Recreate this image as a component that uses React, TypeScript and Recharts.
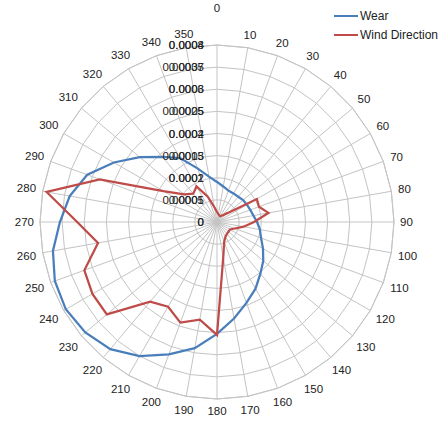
import React from 'react';
import {
  RadarChart,
  Radar,
  PolarGrid,
  PolarAngleAxis,
  PolarRadiusAxis,
  Legend,
} from 'recharts';

const angleLabels = [
  '0', '10', '20', '30', '40', '50', '60', '70', '80', '90', '100', '110',
  '120', '130', '140', '150', '160', '170', '180', '190', '200', '210', '220', '230',
  '240', '250', '260', '270', '280', '290', '300', '310', '320', '330', '340', '350',
];

const wearValues = [
  0.000181, 0.000163, 0.000151, 0.000149, 0.000149, 0.000154, 0.000156, 0.00016, 0.000167,
  0.000181, 0.000197, 0.000212, 0.00024, 0.000273, 0.000305, 0.000348, 0.000389, 0.000443,
  0.000506, 0.000579, 0.000637, 0.0007, 0.00075, 0.000777, 0.000789, 0.00078, 0.000753,
  0.00071, 0.000676, 0.000624, 0.000538, 0.000456, 0.000384, 0.000334, 0.000258, 0.000208,
];

const windValues = [
  0.0000226, 0.0000181, 0.0000158, 0.0000149, 0.00002, 0.000032, 0.000104, 0.000101, 0.000118,
  0.0000837, 0.000061, 0.000043, 0.000034, 0.000034, 0.000035, 0.0000384, 0.0000475, 0.0000814,
  0.000255, 0.000224, 0.000242, 0.000221, 0.000235, 0.000325, 0.000325, 0.000319, 0.000273,
  0.000316, 0.000391, 0.000282, 0.00014, 0.0000972, 0.0000836, 0.0000927, 0.000061, 0.0000339,
];

const wearTicks = [0, 0.0001, 0.0002, 0.0003, 0.0004, 0.0005, 0.0006, 0.0007, 0.0008];
const windTicks = [0, 0.00005, 0.0001, 0.00015, 0.0002, 0.00025, 0.0003, 0.00035, 0.0004];

const data = angleLabels.map((angle, i) => ({
  angle,
  wear: wearValues[i],
  wind: windValues[i],
}));

const CX = 217;
const CY = 222;
const R = 177;
const FONT = '"Liberation Sans", Arial, sans-serif';
const BLUE = '#4A7EBB';
const RED = '#BE4B48';

function AngleTick(props: any) {
  const { payload } = props;
  const label = String(payload.value);
  const a = (payload.coordinate * Math.PI) / 180;
  const w = label.length * 6.4;
  // excel pushes the "0" label up above the overlapping axis labels
  const d = label === '0' ? 214 : 183 + Math.abs(Math.cos(a)) * (w / 2) + Math.abs(Math.sin(a)) * 6;
  return (
    <text
      x={CX + d * Math.cos(a)}
      y={CY - d * Math.sin(a)}
      textAnchor="middle"
      dominantBaseline="central"
      fontSize={11.5}
      fontFamily={FONT}
      fill="#222"
    >
      {label}
    </text>
  );
}

function RadiusTick(props: any) {
  const { x, y, payload } = props;
  const v = parseFloat(Number(payload.value).toPrecision(6));
  return (
    <text
      x={x - 13}
      y={y}
      textAnchor="end"
      dominantBaseline="central"
      fontSize={11.5}
      fontFamily={FONT}
      fill="#222"
    >
      {String(v)}
    </text>
  );
}

function LegendBox() {
  const items = [
    { name: 'Wear', color: BLUE },
    { name: 'Wind Direction', color: RED },
  ];
  return (
    <div style={{ fontFamily: FONT, fontSize: 12, color: '#222' }}>
      {items.map((it) => (
        <div key={it.name} style={{ display: 'flex', alignItems: 'center', height: 19 }}>
          <span
            style={{
              display: 'inline-block',
              width: 24,
              height: 0,
              borderTop: `2.5px solid ${it.color}`,
              marginRight: 2,
            }}
          />
          {it.name}
        </div>
      ))}
    </div>
  );
}

export default function App() {
  return (
    <div style={{ position: 'absolute', left: 0, top: 0, background: '#fff' }}>
      <RadarChart
        width={446}
        height={421}
        data={data}
        cx={CX}
        cy={CY}
        outerRadius={R}
        margin={{ top: 0, right: 0, bottom: 0, left: 0 }}
      >
        <PolarGrid radiusAxisId="wind" stroke="#C4C4C4" strokeWidth={1} />
        <PolarAngleAxis
          dataKey="angle"
          tick={<AngleTick />}
          tickLine={false}
          axisLine={{ stroke: '#C4C4C4' }}
        />
        <PolarRadiusAxis
          radiusAxisId="wear"
          type="number"
          scale="linear"
          angle={90}
          domain={[0, 0.0008]}
          ticks={wearTicks as any}
          tickCount={9}
          axisLine={false}
          tickLine={false}
          tick={<RadiusTick />}
        />
        <PolarRadiusAxis
          radiusAxisId="wind"
          type="number"
          scale="linear"
          angle={90}
          domain={[0, 0.0004]}
          ticks={windTicks as any}
          tickCount={9}
          axisLine={false}
          tickLine={false}
          tick={<RadiusTick />}
        />
        <Radar
          name="Wear"
          dataKey="wear"
          radiusAxisId="wear"
          stroke={BLUE}
          strokeWidth={2.25}
          fill="none"
          fillOpacity={0}
          dot={false}
          isAnimationActive={false}
        />
        <Radar
          name="Wind Direction"
          dataKey="wind"
          radiusAxisId="wind"
          stroke={RED}
          strokeWidth={2.25}
          fill="none"
          fillOpacity={0}
          dot={false}
          isAnimationActive={false}
        />
        <Legend
          content={<LegendBox />}
          wrapperStyle={{ position: 'absolute', left: 334, top: 6, width: 112 }}
        />
      </RadarChart>
    </div>
  );
}
